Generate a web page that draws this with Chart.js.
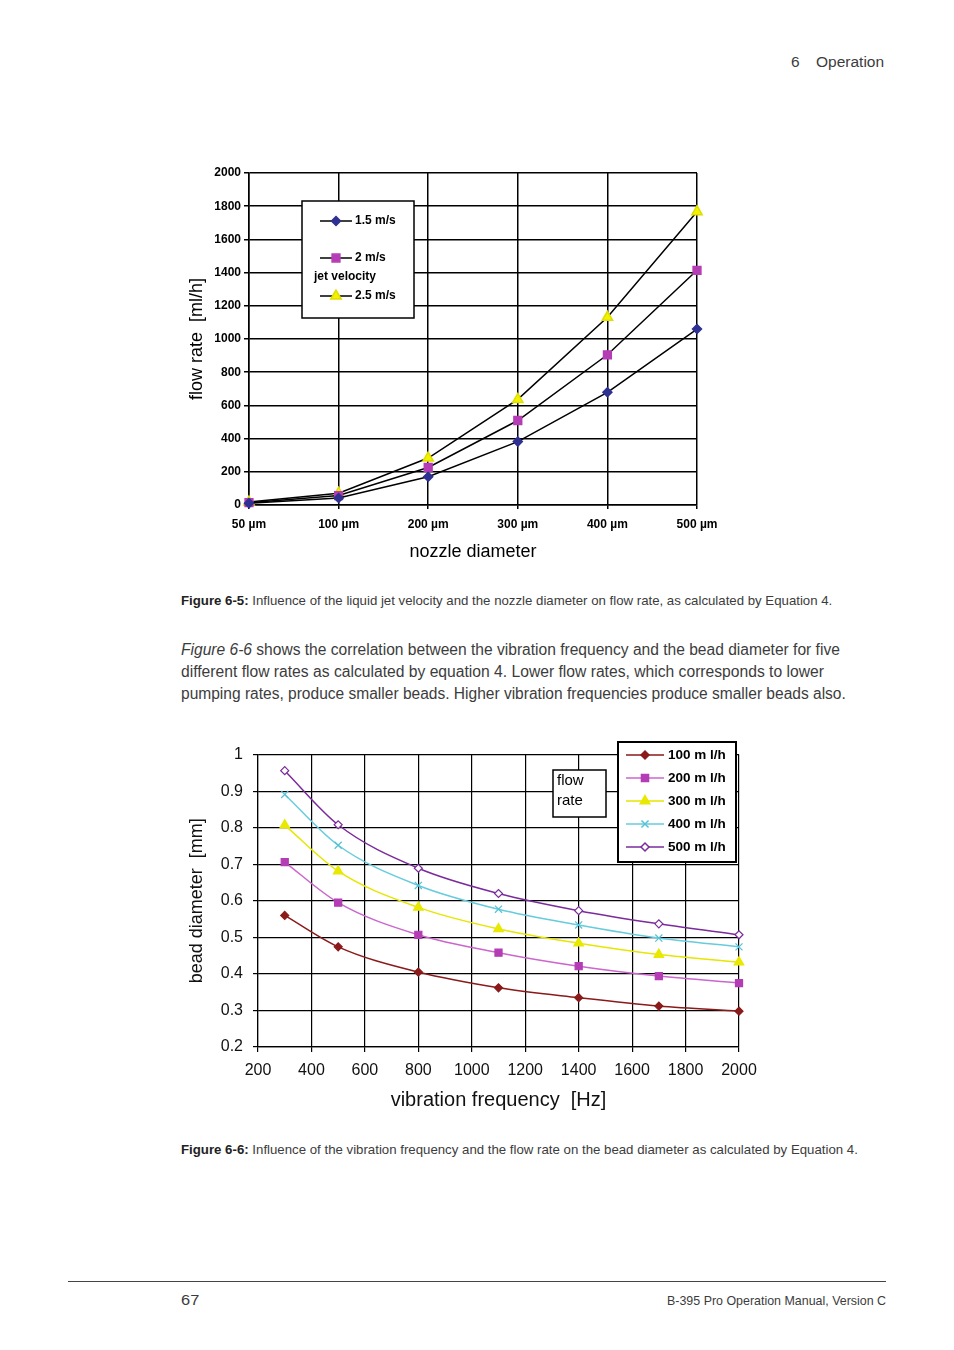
<!DOCTYPE html>
<html>
<head>
<meta charset="utf-8">
<script src="https://cdn.jsdelivr.net/npm/chart.js@4.4.1/dist/chart.umd.min.js"></script>
<style>
body { margin: 0; width: 954px; height: 1350px; background: #fff; position: relative; overflow: hidden;
       font-family: 'Liberation Sans', Arial, sans-serif; color: #3c3c3c; }
.t { position: absolute; white-space: nowrap; transform-origin: 0 50%; line-height: 20px; }
.t b { color: #222; }
.box { position: absolute; }
</style>
</head>
<body>

<div class="t" style="left:791px;top:52px;font-size:15.5px" data-w="9">6</div>
<div class="t" style="left:816px;top:52px;font-size:15.5px" data-w="68">Operation</div>

<div class="box" style="left:180px;top:160px"><canvas id="chart1" width="560" height="412"></canvas></div>

<div class="t" style="left:181px;top:591px;font-size:13px" data-w="651"><b>Figure 6-5:</b> Influence of the liquid jet velocity and the nozzle diameter on flow rate, as calculated by Equation 4.</div>

<div class="t" style="left:181px;top:640px;font-size:16px" data-w="659"><i>Figure 6-6</i> shows the correlation between the vibration frequency and the bead diameter for five</div>
<div class="t" style="left:181px;top:662px;font-size:16px" data-w="643">different flow rates as calculated by equation 4. Lower flow rates, which corresponds to lower</div>
<div class="t" style="left:181px;top:684px;font-size:16px" data-w="665">pumping rates, produce smaller beads. Higher vibration frequencies produce smaller beads also.</div>

<div class="box" style="left:180px;top:735px"><canvas id="chart2" width="590" height="385"></canvas></div>

<div class="t" style="left:181px;top:1140px;font-size:13px" data-w="677"><b>Figure 6-6:</b> Influence of the vibration frequency and the flow rate on the bead diameter as calculated by Equation 4.</div>

<div style="position:absolute;left:68px;top:1281px;width:818px;height:1px;background:#444"></div>
<div class="t" style="left:181px;top:1290px;font-size:15.5px" data-w="18">67</div>
<div class="t" style="left:667px;top:1291px;font-size:13px" data-w="219">B-395 Pro Operation Manual, Version C</div>

<script>
// figure 6-5: flow rate vs nozzle diameter
var nozzleLabels = ['50 µm', '100 µm', '200 µm', '300 µm', '400 µm', '500 µm'];
var flow15 = [11, 42, 170, 382, 679, 1060];
var flow20 = [14, 57, 226, 509, 905, 1414];
var flow25 = [18, 71, 283, 636, 1131, 1767];

// figure 6-6: bead diameter vs vibration frequency
var freqHz = [300, 500, 800, 1100, 1400, 1700, 2000];
var bead100 = [0.560, 0.474, 0.405, 0.362, 0.335, 0.312, 0.298];
var bead200 = [0.706, 0.595, 0.507, 0.458, 0.421, 0.394, 0.375];
var bead300 = [0.807, 0.681, 0.582, 0.523, 0.484, 0.453, 0.432];
var bead400 = [0.891, 0.752, 0.642, 0.577, 0.534, 0.498, 0.474];
var bead500 = [0.956, 0.808, 0.689, 0.620, 0.573, 0.537, 0.507];

// squeeze page text to the widths in the print
document.querySelectorAll('[data-w]').forEach(function (el) {
    var w = +el.getAttribute('data-w');
    el.style.transform = 'scaleX(' + (w / el.scrollWidth) + ')';
});

Chart.defaults.font.family = "'Liberation Sans', Arial, sans-serif";
Chart.defaults.color = '#000';

function plain(v) { return String(Math.round(v * 10) / 10); }

function pts(ys) {
    return freqHz.map(function (f, i) { return {x: f, y: ys[i]}; });
}

function legendSymbol(ctx, ds, x1, x2, y) {
    ctx.save();
    ctx.strokeStyle = ds.legendLine || ds.borderColor;
    ctx.lineWidth = 1.5;
    ctx.beginPath(); ctx.moveTo(x1, y); ctx.lineTo(x2, y); ctx.stroke();
    ctx.fillStyle = ds.pointBackgroundColor;
    ctx.strokeStyle = ds.pointBorderColor;
    Chart.helpers.drawPoint(ctx, {pointStyle: ds.pointStyle, radius: ds.pointRadius, borderWidth: ds.pointBorderWidth || 1, rotation: 0}, (x1 + x2) / 2, y);
    ctx.restore();
}

var legend1 = {
    id: 'legend1',
    afterDraw: function (chart) {
        var ctx = chart.ctx;
        ctx.save();
        ctx.fillStyle = '#fff';
        ctx.fillRect(122, 41, 112, 117);
        ctx.strokeStyle = '#000'; ctx.lineWidth = 1.5;
        ctx.strokeRect(122, 41, 112, 117);
        var ys = [61, 98, 136];
        ctx.font = 'bold 12px ' + Chart.defaults.font.family;
        ctx.textBaseline = 'middle';
        chart.data.datasets.forEach(function (ds, i) {
            legendSymbol(ctx, ds, 140, 172, ys[i]);
            ctx.fillStyle = '#000';
            ctx.fillText(ds.label, 175, ys[i]);
        });
        ctx.fillText('jet velocity', 134, 117);
        ctx.restore();
    }
};

new Chart(document.getElementById('chart1'), {
    type: 'line',
    data: {
        labels: nozzleLabels,
        datasets: [
            {label: '1.5 m/s', data: flow15, borderColor: '#000', borderWidth: 1.5, tension: 0, clip: false,
             pointStyle: 'rectRot', pointRadius: 4.5, pointBackgroundColor: '#2e3192', pointBorderColor: '#2e3192', legendLine: '#000'},
            {label: '2 m/s', data: flow20, borderColor: '#000', borderWidth: 1.5, tension: 0, clip: false,
             pointStyle: 'rect', pointRadius: 5.5, pointBackgroundColor: '#b53cb5', pointBorderColor: '#b53cb5', legendLine: '#000'},
            {label: '2.5 m/s', data: flow25, borderColor: '#000', borderWidth: 1.5, tension: 0, clip: false,
             pointStyle: 'triangle', pointRadius: 6, pointBackgroundColor: '#f2f200', pointBorderColor: '#dede00', legendLine: '#000'}
        ]
    },
    options: {
        responsive: false,
        animation: false,
        layout: {padding: {top: 13, right: 43, left: 1, bottom: 0}},
        plugins: {legend: {display: false}, tooltip: {enabled: false}},
        scales: {
            x: {
                offset: false,
                grid: {color: '#000', lineWidth: 1.5, tickLength: 4},
                border: {color: '#000', width: 1.5},
                ticks: {font: {size: 12, weight: 'bold'}, padding: 8, maxRotation: 0, autoSkip: false},
                title: {display: true, text: 'nozzle diameter', font: {size: 18}, padding: {top: 0, bottom: 9}},
                afterFit: function (s) { s.height = 67; }
            },
            y: {
                min: 0, max: 2000,
                grid: {color: '#000', lineWidth: 1.5, tickLength: 5},
                border: {color: '#000', width: 1.5},
                ticks: {stepSize: 200, font: {size: 12, weight: 'bold'}, padding: 3, callback: plain},
                title: {display: true, text: 'flow rate  [ml/h]', font: {size: 18}, padding: {top: 5, bottom: 0}},
                afterFit: function (s) { s.width = 68; }
            }
        }
    },
    plugins: [legend1]
});

var legend2 = {
    id: 'legend2',
    afterDraw: function (chart) {
        var ctx = chart.ctx;
        var fam = Chart.defaults.font.family;
        ctx.save();
        // flow rate label box
        ctx.fillStyle = '#fff';
        ctx.fillRect(373, 35, 53, 47);
        ctx.strokeStyle = '#000'; ctx.lineWidth = 1.5;
        ctx.strokeRect(373, 35, 53, 47);
        ctx.fillStyle = '#000';
        ctx.font = '15px ' + fam;
        ctx.textBaseline = 'middle';
        ctx.fillText('flow', 377, 46);
        ctx.fillText('rate', 377, 66);
        // series legend
        ctx.fillStyle = '#fff';
        ctx.fillRect(438, 7, 118, 120);
        ctx.lineWidth = 2;
        ctx.strokeRect(438, 7, 118, 120);
        ctx.font = 'bold 13.5px ' + fam;
        chart.data.datasets.forEach(function (ds, i) {
            var y = 20 + i * 23;
            legendSymbol(ctx, ds, 446, 484, y);
            ctx.fillStyle = '#000';
            ctx.fillText(ds.label, 488, y);
        });
        ctx.restore();
    }
};

function beadSet(label, ys, line, mark, style, r, fill) {
    return {label: label, data: pts(ys), borderColor: line, borderWidth: 1.5, tension: 0.4,
            cubicInterpolationMode: 'monotone', clip: false, pointStyle: style, pointRadius: r,
            pointBackgroundColor: fill || mark, pointBorderColor: mark, pointBorderWidth: 1.2};
}

new Chart(document.getElementById('chart2'), {
    type: 'line',
    data: {
        datasets: [
            beadSet('100 m l/h', bead100, '#8b1a1a', '#8b1a1a', 'rectRot', 4),
            beadSet('200 m l/h', bead200, '#cc66cc', '#b43cb4', 'rect', 5),
            beadSet('300 m l/h', bead300, '#e6e600', '#e8e800', 'triangle', 5.5),
            beadSet('400 m l/h', bead400, '#66ccdd', '#55c2d6', 'crossRot', 5),
            beadSet('500 m l/h', bead500, '#7b2b9b', '#7b2b9b', 'rectRot', 4, '#fff')
        ]
    },
    options: {
        responsive: false,
        animation: false,
        layout: {padding: {top: 16, right: 31, left: 0, bottom: 0}},
        plugins: {legend: {display: false}, tooltip: {enabled: false}},
        scales: {
            x: {
                type: 'linear', min: 200, max: 2000,
                grid: {color: '#000', lineWidth: 1.2, tickLength: 5},
                border: {color: '#000', width: 1.2},
                ticks: {stepSize: 200, font: {size: 16}, padding: 9, color: '#111', maxRotation: 0, callback: plain},
                title: {display: true, text: 'vibration frequency  [Hz]', font: {size: 20}, color: '#111', padding: {top: 0, bottom: 8}},
                afterFit: function (s) { s.height = 73; }
            },
            y: {
                min: 0.2, max: 1,
                grid: {color: '#000', lineWidth: 1.2, tickLength: 5},
                border: {color: '#000', width: 1.2},
                ticks: {stepSize: 0.1, font: {size: 16}, padding: 10, color: '#111', callback: plain},
                title: {display: true, text: 'bead diameter  [mm]', font: {size: 18}, color: '#111', padding: {top: 6, bottom: 0}},
                afterFit: function (s) { s.width = 78; }
            }
        }
    },
    plugins: [legend2]
});
</script>
</body>
</html>
